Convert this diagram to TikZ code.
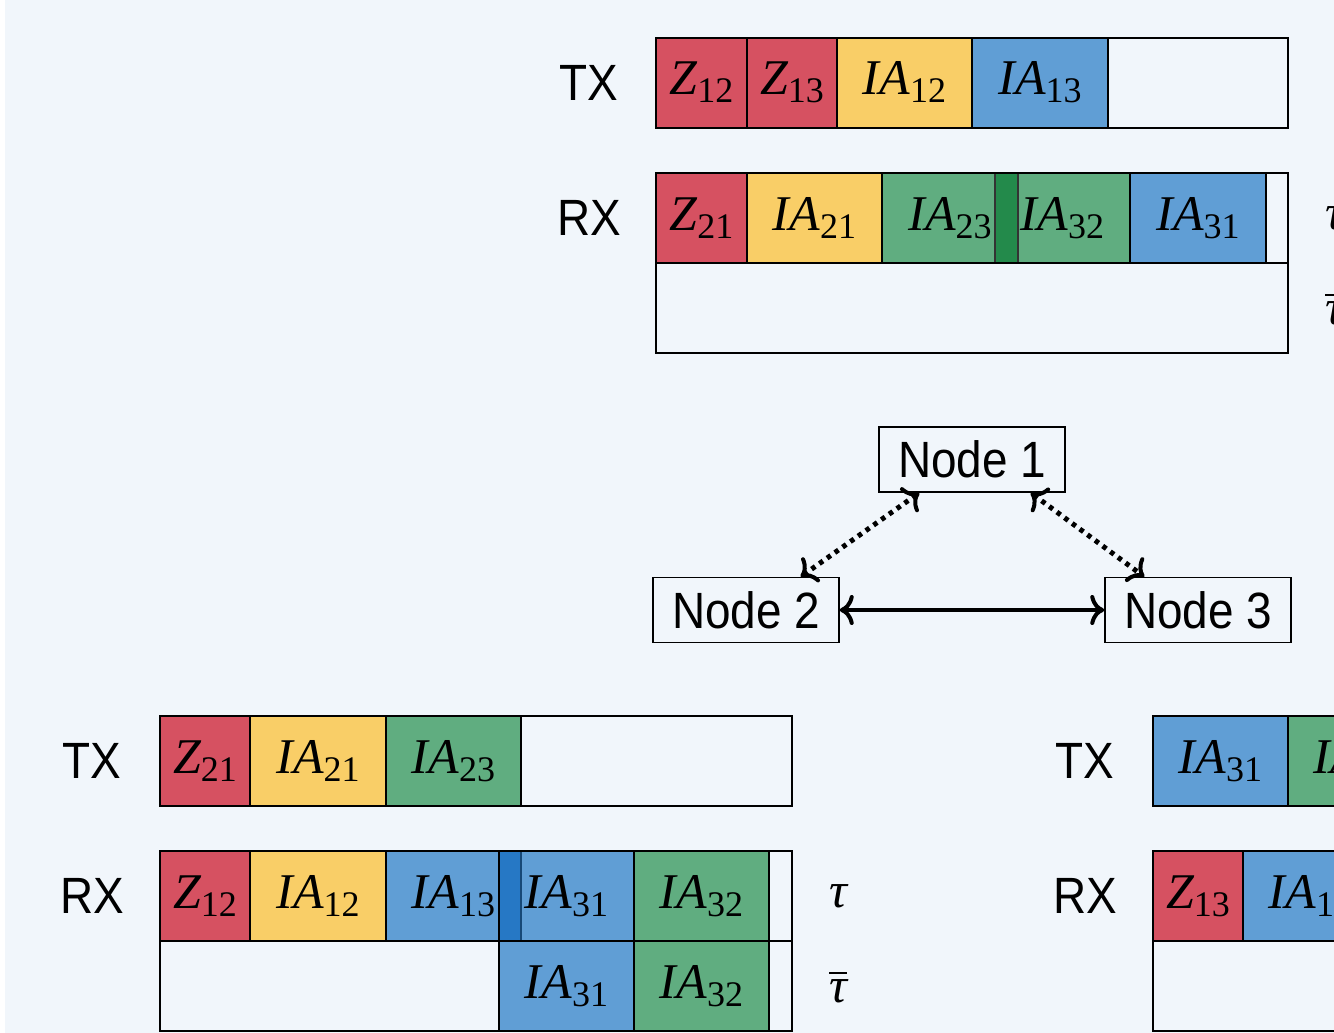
\documentclass[tikz,border=0pt]{standalone}
\usepackage{fontspec}
\usepackage{graphicx}
\usetikzlibrary{arrows.meta}
\newfontfamily\sansf{Liberation Sans}
\newfontfamily\serf{Liberation Serif}
\definecolor{bgc}{HTML}{F1F6FB}
\definecolor{zred}{HTML}{D65161}
\definecolor{iayel}{HTML}{F9CE67}
\definecolor{iagrn}{HTML}{60AD80}
\definecolor{iablu}{HTML}{609ED5}
\definecolor{dkgrn}{HTML}{238A4B}
\definecolor{dkblu}{HTML}{2678C5}
% slot label: italic name with upright subscript
\newcommand\slot[2]{{\serf\fontsize{50}{50}\selectfont\itshape #1}\raisebox{-8pt}{\serf\fontsize{36}{36}\selectfont #2}}
% sans label text
\newcommand\sx[1]{\scalebox{0.9}[1]{\sansf\fontsize{51}{51}\selectfont #1}}
\newcommand\tauup{{\serf\fontsize{50}{50}\selectfont\itshape τ}}
\newcommand\taubar{\vbox{\hrule height 2pt\kern 5pt\hbox{\tauup}}}
% one coloured slot: x1, x2, top y, colour, label
\newcommand\seg[5]{%
  \filldraw[cellbox, fill=#4] (#1,#3) rectangle (#2,#3+90);
  \node[slotlab] (s-#1-#3) at ({(#1+#2)/2},#3+57) {\slot#5};}
\begin{document}
\begin{tikzpicture}[x=1pt,y=-1pt,
  cellbox/.style={draw=black, line width=1.5pt},
  barbox/.style={draw=black, line width=1.6pt},
  slotlab/.style={anchor=base, inner sep=0pt},
  rowlab/.style={anchor=base, inner sep=0pt},
  netnode/.style={draw=black, line width=1.5pt, fill=none, minimum width=186pt, minimum height=65pt, inner sep=0pt},
  link/.style={line width=4.5pt, {Computer Modern Rightarrow[length=14pt,width=30pt,line width=4pt]}-{Computer Modern Rightarrow[length=14pt,width=30pt,line width=4pt]}},
  dotlink/.style={link, line width=5pt, dash pattern=on 4.5pt off 5pt}]
\useasboundingbox (0,0) rectangle (1334,1033);
\fill[bgc] (5,0) rectangle (1334,1033);
\begin{scope}
\clip (0,0) rectangle (1334,1033);

% ---------- Node 1 schedule ----------
\node[rowlab] (tx1) at (589,100) {\sx{TX}};
\node[rowlab] (rx1) at (589,235) {\sx{RX}};
\seg{656}{747}{38}{zred}{{Z}{12}}
\seg{747}{837}{38}{zred}{{Z}{13}}
\seg{837}{972}{38}{iayel}{{IA}{12}}
\seg{972}{1108}{38}{iablu}{{IA}{13}}
\draw[barbox] (656,38) rectangle (1288,128);
\seg{656}{747}{173}{zred}{{Z}{21}}
\seg{747}{882}{173}{iayel}{{IA}{21}}
\seg{882}{1018}{173}{iagrn}{{IA}{23}}
\seg{995}{1130}{173}{iagrn}{{IA}{32}}
\filldraw[fill=dkgrn, draw=black!80, line width=1.2pt] (995,173) rectangle (1018,263);
\seg{1130}{1266}{173}{iablu}{{IA}{31}}
\draw[barbox] (656,173) rectangle (1288,353);
\draw[barbox] (656,263) -- (1288,263);
\node[rowlab] (tau1) at (1334,229) {\tauup};
\node[rowlab] (taub1) at (1334,324) {\taubar};

% ---------- Node 2 schedule ----------
\node[rowlab] (tx2) at (92,778) {\sx{TX}};
\node[rowlab] (rx2) at (92,913) {\sx{RX}};
\seg{160}{250}{716}{zred}{{Z}{21}}
\seg{250}{386}{716}{iayel}{{IA}{21}}
\seg{386}{521}{716}{iagrn}{{IA}{23}}
\draw[barbox] (160,716) rectangle (792,806);
\seg{160}{250}{851}{zred}{{Z}{12}}
\seg{250}{386}{851}{iayel}{{IA}{12}}
\seg{386}{521}{851}{iablu}{{IA}{13}}
\seg{499}{634}{851}{iablu}{{IA}{31}}
\fill[dkblu] (499,851) rectangle (521,941);
\draw[cellbox] (499,851) -- (499,941);
\draw[dkblu!60!black, line width=1.2pt] (521,851) -- (521,941);
\seg{634}{769}{851}{iagrn}{{IA}{32}}
\seg{499}{634}{941}{iablu}{{IA}{31}}
\seg{634}{769}{941}{iagrn}{{IA}{32}}
\draw[barbox] (160,851) rectangle (792,1031);
\draw[barbox] (160,941) -- (792,941);
\node[rowlab] (tau2) at (838,907) {\tauup};
\node[rowlab] (taub2) at (838,1002) {\taubar};

% ---------- Node 3 schedule ----------
\node[rowlab] (tx3) at (1085,778) {\sx{TX}};
\node[rowlab] (rx3) at (1085,913) {\sx{RX}};
\seg{1153}{1288}{716}{iablu}{{IA}{31}}
\seg{1288}{1423}{716}{iagrn}{{IA}{32}}
\draw[barbox] (1153,716) rectangle (1785,806);
\seg{1153}{1243}{851}{zred}{{Z}{13}}
\seg{1243}{1378}{851}{iablu}{{IA}{13}}
\draw[barbox] (1153,851) rectangle (1785,1031);
\draw[barbox] (1153,941) -- (1785,941);

% ---------- network ----------
\node[netnode] (n1) at (972,459.5) {\sx{Node 1}};
\node[netnode] (n2) at (746,610) {\sx{Node 2}};
\node[netnode] (n3) at (1198,610) {\sx{Node 3}};
\draw[link] (n2.east) -- (n3.west);
\draw[dotlink] ([xshift=41pt]n1.south west) -- ([xshift=-39pt]n2.north east);
\draw[dotlink] ([xshift=-35pt]n1.south east) -- ([xshift=40pt]n3.north west);
\end{scope}
\end{tikzpicture}
\end{document}
